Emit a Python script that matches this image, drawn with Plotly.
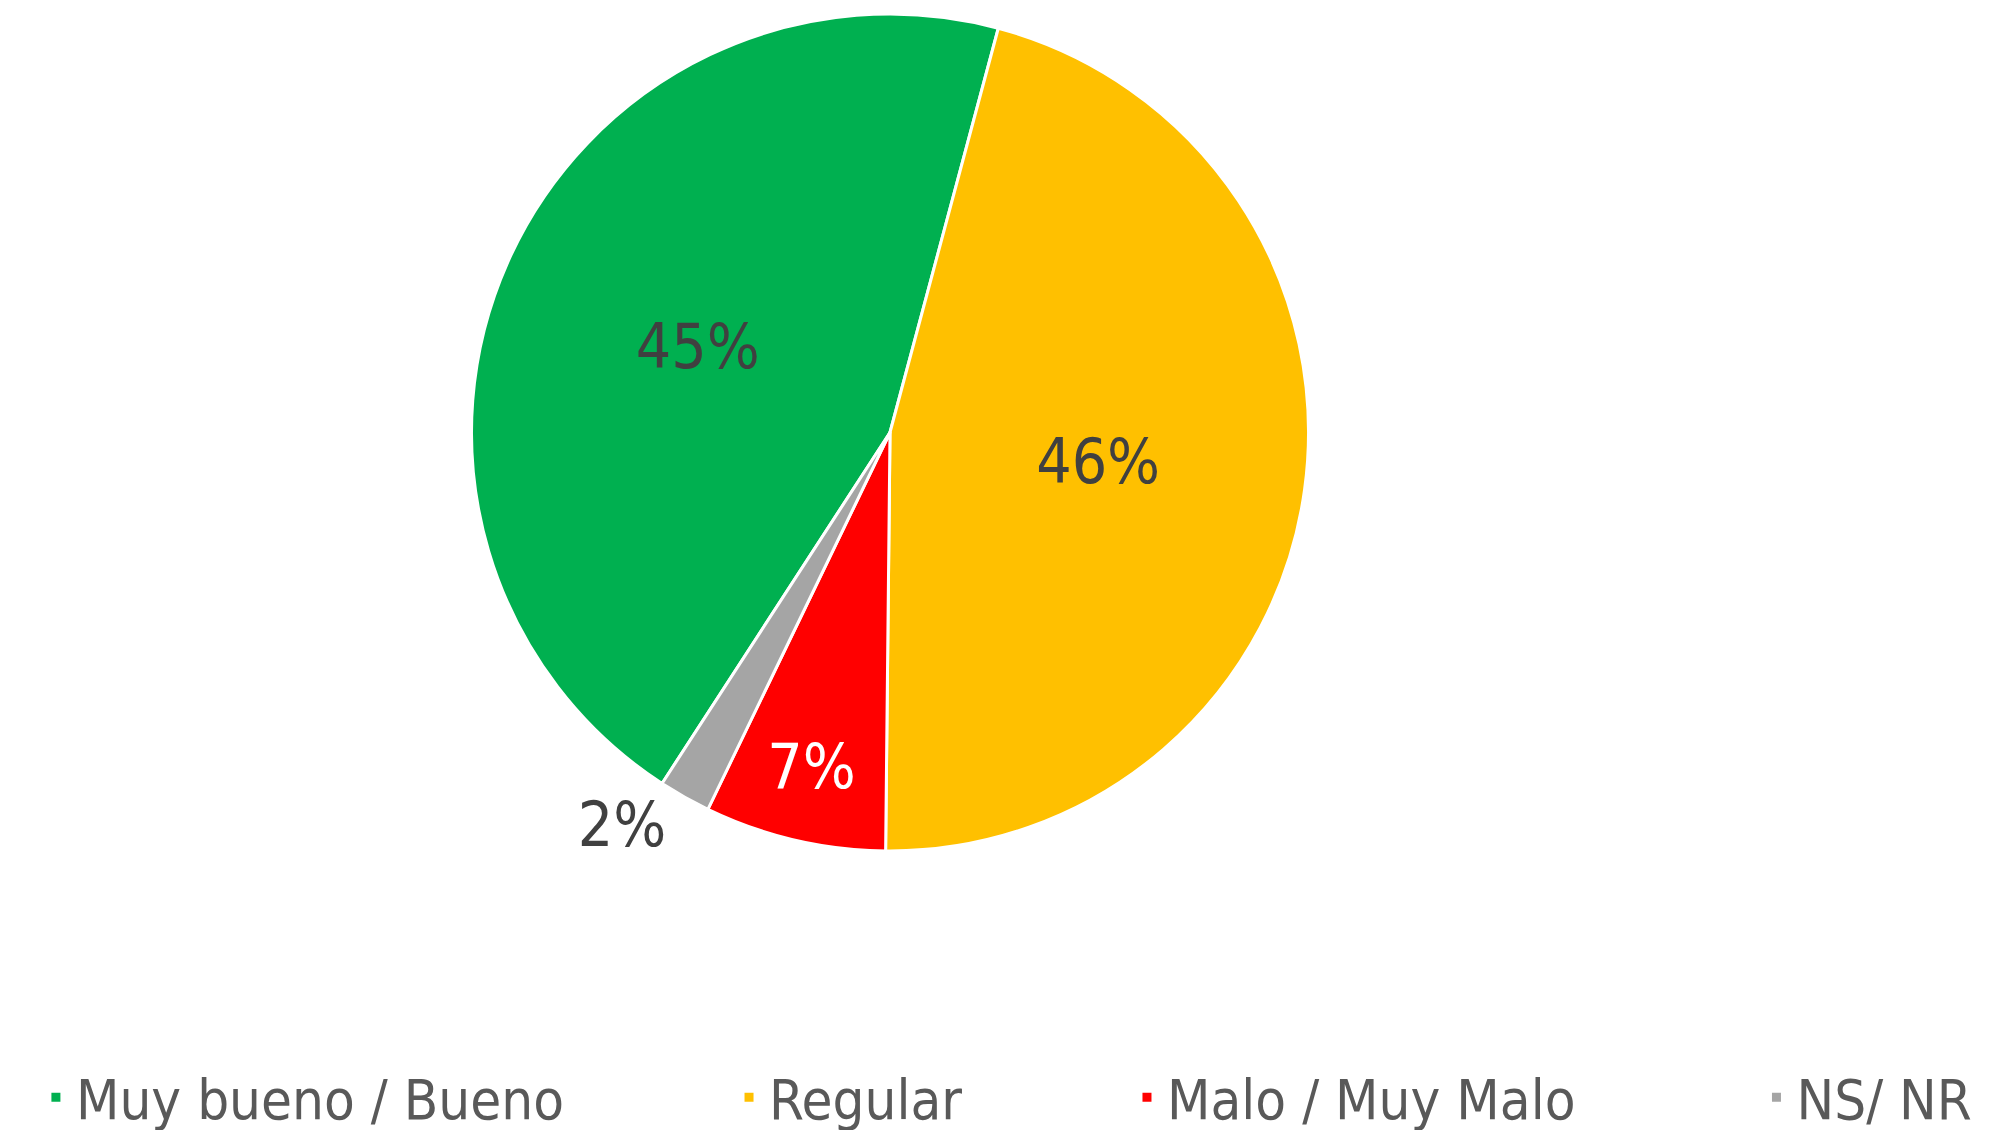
import plotly.graph_objects as go

categories = ["Muy bueno / Bueno", "Regular", "Malo / Muy Malo", "NS/ NR"]
values = [45, 46, 7, 2]
colors = ["#00B050", "#FFC000", "#FF0000", "#A5A5A5"]
text_colors = ["#404040", "#404040", "#FFFFFF", "#404040"]
text_positions = ["inside", "inside", "inside", "outside"]

W, H = 1994, 1130
OFF = 8  # browser default body margin
cx, cy, r = 890 - OFF, 432.5 - OFF, 418.5
FONT = "DejaVu Sans Condensed, Liberation Sans Narrow, sans-serif"

pad_counts = [10, 10, 11, 0]
legend_names = [c + "\u00a0" * n for c, n in zip(categories, pad_counts)]

fig = go.Figure(go.Pie(
    labels=legend_names,
    values=values,
    sort=False,
    direction="clockwise",
    rotation=213,
    marker=dict(colors=colors, line=dict(color="white", width=3)),
    texttemplate="%{value}%",
    textposition=text_positions,
    insidetextorientation="horizontal",
    textfont=dict(family=FONT, size=62, color=text_colors),
    domain=dict(x=[(cx - 500) / W, (cx + 500) / W],
                y=[1 - (cy + r) / H, 1 - (cy - r) / H]),
    hoverinfo="label+percent",
))

fig.update_layout(
    width=W, height=H,
    margin=dict(l=0, r=0, t=0, b=0, autoexpand=False),
    paper_bgcolor="white",
    plot_bgcolor="white",
    showlegend=True,
    legend=dict(
        orientation="h",
        x=0.014, xanchor="left",
        y=0.074, yanchor="top",
        font=dict(family=FONT, size=56, color="#595959"),
        bgcolor="rgba(0,0,0,0)",
    ),
)

fig.write_html("out.html")
